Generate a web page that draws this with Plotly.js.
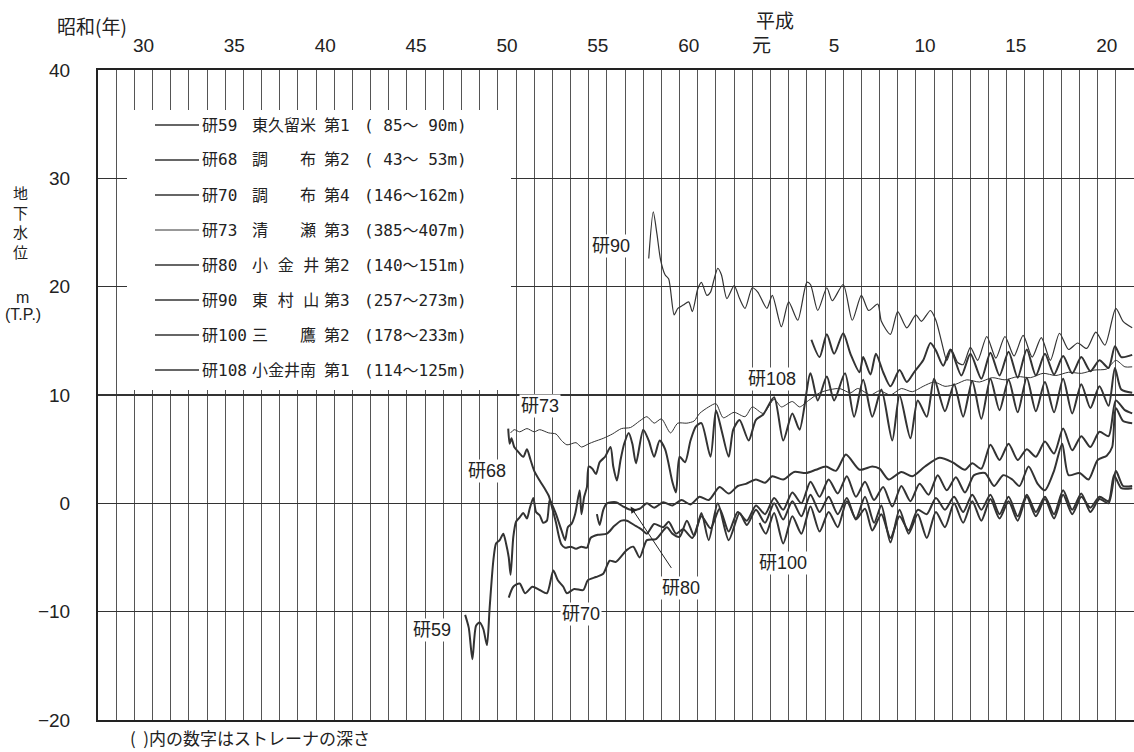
<!DOCTYPE html>
<html><head><meta charset="utf-8">
<script src="https://cdn.plot.ly/plotly-3.0.1.min.js"></script>
<style>html,body{margin:0;padding:0;background:#fff}#chart{width:1134px;height:752px}</style>
</head><body><div id="chart"></div>
<script>
// ---- axis labels ----
const eraTickYears = [1955.5,1960.5,1965.5,1970.5,1975.5,1980.5,1985.5,1989.5,1993.5,1998.5,2003.5,2008.5];
const eraTickText  = ['30','35','40','45','50','55','60','元','5','10','15','20'];
const levelTicks   = [-20,-10,0,10,20,30,40];

// ---- legend text ----
const wellIds    = ['研59','研68','研70','研73','研80','研90','研100','研108'];
const wellPlaces = ['東久留米','調　　布','調　　布','清　　瀬','小 金 井','東 村 山','三　　鷹','小金井南'];
const wellLayers = ['第1','第2','第4','第3','第2','第3','第2','第1'];
const wellDepths = ['( 85～ 90m)','( 43～ 53m)','(146～162m)','(385～407m)','(140～151m)','(257～273m)','(178～233m)','(114～125m)'];

// ---- series (year, groundwater level m T.P.) ----
const yr59 = [1973.2,1973.4,1973.6,1973.8,1974.0,1974.2,1974.4,1974.55,1974.75,1974.9,1975.1,1975.3,1975.45,1975.6,1975.7,1975.85,1976.0,1976.2,1976.4,1976.6,1976.75,1976.95,1977.1,1977.3,1977.5,1977.7,1977.85,1978.0,1978.2,1978.5,1978.7,1978.85,1979.05,1979.25,1979.5,1979.6,1979.75,1979.9,1980.0,1980.2,1980.4,1980.6,1980.9,1981.2,1981.35,1981.55,1981.75,1981.95,1982.2,1982.4,1982.6,1983.0,1983.3,1983.6,1983.9,1984.2,1984.6,1984.8,1985.0,1985.3,1985.6,1985.9,1986.2,1986.7,1987.0,1987.3,1987.7,1987.95,1988.3,1988.8,1989.2,1989.6,1990.2,1990.7,1991.2,1991.6,1992.2,1992.6,1993.1,1993.5,1994.1,1994.6,1995.1,1995.6,1996.1,1996.7,1997.1,1997.7,1998.1,1998.6,1999.0,1999.6,2000.1,2000.6,2001.1,2001.6,2002.1,2002.6,2003.1,2003.6,2004.1,2004.6,2005.1,2005.6,2006.1,2006.6,2007.1,2007.6,2008.1,2008.6,2008.95,2009.3,2009.9];
const lv59 = [-10.3,-11.5,-14.4,-11.3,-11.0,-11.6,-13.1,-9.6,-5.3,-3.7,-3.4,-2.8,-3.7,-5.0,-6.6,-3.1,-1.7,-1.3,-0.9,-1.4,-0.5,0.5,-0.8,-1.1,-1.8,-1.6,0.3,-0.2,-1.0,-2.5,-3.4,-2.2,-1.9,-1.0,1.2,-1.0,0.6,1.5,3.4,3.2,2.7,3.8,4.3,5.2,3.4,2.1,4.0,5.5,6.5,5.5,3.7,6.8,5.8,4.3,5.8,5.0,2.0,1.0,4.3,3.8,5.8,7.1,7.4,4.3,8.6,6.8,4.3,6.8,7.7,5.8,7.7,8.2,9.8,5.8,8.3,6.8,12.0,9.5,11.7,9.5,12.0,8.0,11.4,8.0,10.5,5.8,10.0,6.0,9.5,8.0,11.5,8.5,11.0,8.0,11.3,7.8,11.5,8.6,11.4,8.4,11.6,8.5,11.2,8.4,11.5,8.3,11.0,8.8,10.8,9.0,12.5,10.5,10.2];

const yr68 = [1975.57,1975.65,1975.75,1975.9,1976.1,1976.4,1976.6,1976.8,1977.0,1977.3,1977.6,1977.8,1978.0,1978.2,1978.35,1978.5,1978.7,1979.0,1979.3,1979.6,1979.9,1980.1,1980.5,1981.0,1981.4,1981.8,1982.1,1982.5,1982.9,1983.2,1983.6,1984.1,1984.4,1984.8,1985.2,1985.7,1986.2,1986.7,1987.2,1987.7,1988.2,1988.7,1989.2,1989.7,1990.2,1990.7,1991.2,1991.7,1992.2,1992.7,1993.2,1993.7,1994.2,1994.7,1995.2,1995.7,1996.2,1996.7,1997.2,1997.7,1998.2,1998.7,1999.2,1999.7,2000.2,2000.7,2001.2,2001.8,2002.3,2002.8,2003.3,2003.7,2004.2,2004.7,2005.1,2005.6,2006.05,2006.4,2007.0,2007.5,2008.0,2008.5,2008.8,2009.0,2009.4,2009.9];
const lv68 = [6.9,5.5,6.0,5.2,4.8,4.3,5.0,4.0,3.0,2.1,1.3,0.7,-0.5,-1.8,-3.0,-3.8,-4.1,-4.0,-4.2,-4.0,-4.1,-3.2,-2.9,-2.8,-2.1,-1.6,-1.6,-2.0,-2.4,-2.8,-1.9,-2.2,-1.7,-2.8,-2.4,-3.2,-1.2,-2.3,-0.5,-2.6,-0.8,-1.6,-0.2,-1.0,0.5,-0.6,1.0,0.0,2.0,0.6,2.2,0.9,2.5,0.6,2.0,0.3,1.5,-0.3,1.6,0.2,1.8,0.8,2.6,1.2,2.4,1.0,2.6,2.8,1.6,2.6,2.2,1.6,3.4,1.8,1.2,3.0,5.5,2.6,2.8,2.2,4.0,4.4,5.2,8.8,7.6,7.4];

const yr70 = [1975.6,1975.85,1976.2,1976.5,1976.9,1977.3,1977.7,1978.05,1978.3,1978.6,1978.8,1979.2,1979.7,1979.95,1980.4,1980.8,1981.15,1981.5,1982.1,1982.45,1982.8,1983.2,1983.7,1984.3,1984.6,1985.0,1985.4,1985.8,1986.2,1986.6,1987.1,1987.7,1988.3,1988.7,1989.2,1989.7,1990.2,1990.7,1991.2,1991.7,1992.2,1992.7,1993.2,1993.7,1994.2,1994.7,1995.2,1995.6,1996.1,1996.6,1997.1,1997.6,1998.1,1998.6,1999.1,1999.6,2000.1,2000.6,2001.1,2001.6,2002.1,2002.6,2003.1,2003.6,2004.1,2004.6,2005.1,2005.6,2006.1,2006.6,2007.1,2007.6,2008.1,2008.6,2009.0,2009.4,2009.9];
const lv70 = [-8.7,-7.7,-7.4,-8.3,-7.7,-8.0,-8.3,-6.2,-7.1,-7.7,-8.3,-7.9,-8.0,-7.1,-6.8,-6.5,-5.3,-5.4,-4.3,-4.0,-5.0,-3.4,-3.3,-2.2,-2.8,-3.1,-1.6,-3.0,-0.9,-3.4,0.0,-3.4,-0.9,-2.0,-0.6,-1.8,0.0,-1.5,0.2,-1.2,0.8,-0.8,0.6,-1.0,0.5,-1.5,-0.5,-2.5,-1.0,-3.2,-1.2,-2.5,-0.6,-1.0,0.5,-0.6,0.6,-0.8,0.8,-0.6,0.8,-1.0,0.6,-1.2,0.8,-0.8,0.6,-1.0,1.2,-0.6,0.9,-0.8,0.4,0.0,3.0,1.6,1.6];

const yr73 = [1975.7,1975.9,1976.2,1976.6,1977.0,1977.3,1977.8,1978.2,1978.5,1978.8,1979.3,1979.6,1980.0,1980.3,1980.8,1981.3,1981.8,1982.3,1982.8,1983.2,1983.6,1984.0,1984.5,1984.9,1985.4,1985.8,1986.1,1986.6,1987.0,1987.4,1988.0,1988.6,1989.0,1989.6,1990.2,1990.6,1991.2,1991.6,1992.1,1992.7,1993.3,1993.8,1994.4,1994.8,1995.5,1996.0,1996.6,1997.2,1997.8,1998.4,1999.0,1999.6,2000.2,2000.8,2001.5,2002.2,2002.9,2003.6,2004.3,2005.0,2005.7,2006.4,2007.1,2007.8,2008.5,2009.0,2009.5,2009.9];
const lv73 = [6.5,6.8,6.6,6.9,6.6,6.8,6.5,6.4,5.8,5.4,5.6,5.2,5.5,5.7,6.0,6.4,6.9,7.0,7.6,8.0,7.4,7.8,6.5,7.4,7.4,7.6,8.3,8.9,9.2,7.9,8.4,8.0,8.9,8.3,9.6,8.9,9.4,8.9,9.5,10.2,10.5,10.6,10.2,10.6,10.0,10.4,10.0,10.6,10.3,10.8,11.2,10.8,11.0,11.4,11.2,11.6,11.4,11.7,11.6,12.0,11.8,12.1,12.0,12.3,12.4,13.2,12.6,12.6];

const yr80 = [1980.45,1980.6,1980.8,1981.0,1981.5,1981.9,1982.3,1982.8,1983.2,1983.6,1984.1,1984.6,1985.1,1985.6,1986.1,1986.6,1987.2,1987.7,1988.2,1988.65,1989.2,1989.7,1990.1,1990.7,1991.3,1991.95,1992.5,1993.05,1993.6,1994.15,1994.9,1995.6,1996.0,1996.5,1997.2,1997.8,1998.5,1999.3,2000.0,2000.7,2001.1,2001.6,2002.1,2002.6,2003.1,2003.6,2004.1,2004.6,2005.1,2005.6,2006.1,2006.6,2007.1,2007.6,2008.1,2008.6,2009.0,2009.5,2009.9];
const lv80 = [-1.0,-2.0,-0.6,0.0,0.1,-0.3,-0.6,-0.5,0.0,-0.4,0.1,-0.2,0.3,-0.1,0.6,0.3,1.5,0.9,1.6,1.8,2.2,1.9,2.5,2.2,2.9,2.8,3.1,3.4,3.0,4.5,3.1,3.4,3.2,2.2,2.9,2.5,3.4,4.2,3.8,3.1,3.7,3.2,5.4,4.0,5.5,4.0,5.0,4.3,5.7,4.6,6.9,4.9,6.2,5.2,6.6,6.2,9.5,8.6,8.3];

const yr90 = [1983.3,1983.55,1983.75,1983.95,1984.2,1984.4,1984.7,1984.9,1985.2,1985.5,1985.7,1986.0,1986.2,1986.5,1986.7,1986.9,1987.1,1987.3,1987.6,1988.0,1988.3,1988.6,1989.0,1989.3,1989.8,1990.1,1990.6,1991.0,1991.5,1992.0,1992.2,1992.6,1993.1,1993.4,1994.0,1994.5,1995.0,1995.4,1995.9,1996.1,1996.6,1997.0,1997.5,1998.0,1998.3,1998.8,1999.1,1999.4,1999.7,1999.95,2000.3,2000.6,2001.0,2001.4,2001.9,2002.4,2002.9,2003.4,2003.9,2004.4,2004.9,2005.4,2005.9,2006.4,2006.9,2007.4,2007.9,2008.4,2009.0,2009.4,2009.9];
const lv90 = [22.6,26.9,24.9,22.5,21.1,20.7,17.4,18.0,18.3,18.6,17.7,19.8,20.4,19.2,19.5,20.7,21.7,21.1,18.9,20.1,18.9,18.0,19.9,19.5,18.0,19.2,16.3,18.6,16.9,20.4,20.2,17.8,19.9,18.7,20.2,16.9,19.2,17.8,18.4,16.8,15.6,17.7,16.2,17.4,16.8,17.8,16.9,15.0,13.2,14.2,13.0,12.8,14.4,13.2,15.4,13.4,15.4,13.6,15.5,13.5,15.3,13.2,15.7,14.2,14.8,14.3,15.8,14.6,18.0,16.8,16.2];

const yr100 = [1989.4,1989.75,1990.2,1990.7,1991.2,1991.7,1992.2,1992.7,1993.2,1993.7,1994.2,1994.7,1995.2,1995.7,1996.1,1996.6,1997.1,1997.6,1998.1,1998.6,1999.1,1999.6,2000.1,2000.6,2001.1,2001.6,2002.1,2002.6,2003.1,2003.6,2004.1,2004.6,2005.1,2005.6,2006.1,2006.6,2007.1,2007.6,2008.1,2008.6,2008.9,2009.3,2009.9];
const lv100 = [-1.8,-2.8,-0.9,-3.7,-1.2,-2.8,-0.3,-2.6,-0.8,-2.2,0.2,-1.4,0.6,-1.8,-0.2,-3.6,-0.6,-2.8,-1.0,-3.2,-0.8,-2.2,0.0,-1.8,0.2,-1.6,0.4,-1.4,0.2,-1.6,0.6,-1.2,0.4,-1.4,0.8,-1.0,0.6,-0.4,0.6,0.2,2.6,1.4,1.4];

const yr108 = [1992.25,1992.7,1993.1,1993.5,1994.0,1994.4,1994.9,1995.1,1995.5,1995.8,1996.2,1996.6,1997.1,1997.5,1997.9,1998.4,1998.8,1999.1,1999.5,1999.9,2000.5,2001.0,2001.6,2002.1,2002.6,2003.1,2003.6,2004.1,2004.6,2005.1,2005.6,2006.1,2006.6,2007.1,2007.6,2008.1,2008.6,2008.95,2009.3,2009.9];
const lv108 = [15.1,13.5,15.6,13.8,15.7,13.8,12.1,13.5,11.9,13.8,12.1,10.8,12.3,11.2,12.1,13.2,14.8,14.1,12.7,14.2,11.8,13.8,11.5,13.9,11.8,14.0,11.6,14.2,11.8,13.8,11.9,13.6,12.0,13.5,12.2,13.2,12.5,14.5,13.5,13.7];

// ---- build ----
const ink = '#333';
const seriesX = [yr59, yr68, yr70, yr73, yr80, yr90, yr100, yr108];
const seriesY = [lv59, lv68, lv70, lv73, lv80, lv90, lv100, lv108];
const seriesW = [2, 2, 2, 1, 2, 1.2, 2, 2];

const traces = seriesX.map((xs, i) => ({
  type: 'scatter', mode: 'lines', x: xs, y: seriesY[i], name: wellIds[i],
  line: {color: ink, width: seriesW[i], shape: 'spline', smoothing: 0.7},
  showlegend: false, hoverinfo: 'skip'
}));

const numFont = 'Liberation Sans, Arial, Noto Sans CJK JP, sans-serif';
const jpFont = 'Noto Sans CJK JP, sans-serif';
const legFont = 'DejaVu Sans Mono, Noto Sans CJK JP, monospace';

const L = 98, T = 70, PW = 1036, PH = 650;
const px = v => (v - L) / PW;        // pixel -> paper x
const py = v => (T + PH - v) / PH;   // pixel -> paper y

const shapes = [];
const annotations = [];
const note = (t, x, y, font, xa) => annotations.push({xref:'paper', yref:'paper', x:px(x), y:py(y), text:t,
  showarrow:false, xanchor: xa || 'center', yanchor:'middle', font});

// legend box (covers grid)
shapes.push({type:'rect', xref:'paper', yref:'paper', x0:px(127), x1:px(511), y0:py(390), y1:py(110),
  fillcolor:'#fff', line:{width:0}, layer:'above'});
wellIds.forEach((id, i) => {
  const rowY = 125 + 35 * i;
  shapes.push({type:'line', xref:'paper', yref:'paper', x0:px(155), x1:px(199), y0:py(rowY), y1:py(rowY),
    line:{color:ink, width: i === 3 ? 1 : 1.5}, layer:'above'});
  const cols = [[id, 200], [wellPlaces[i], 250], [wellLayers[i], 322], [wellDepths[i], 362]];
  cols.forEach(([t, x]) => note(t, x, rowY, {family:legFont, size:16, color:'#222'}, 'left'));
});

// series labels
const lab = (t, x, y) => ({x, y, xref:'x', yref:'y', text:t, showarrow:false, bgcolor:'#fff', borderpad:1,
  xanchor:'center', yanchor:'middle', font:{family:numFont, size:18, color:'#222'}});
annotations.push(lab('研90', 1981.2, 23.8));
annotations.push(lab('研108', 1990.1, 11.5));
annotations.push(lab('研73', 1977.3, 9.0));
annotations.push(lab('研68', 1974.4, 3.0));
annotations.push(lab('研80', 1985.1, -7.8));
annotations.push(lab('研70', 1979.6, -10.2));
annotations.push(lab('研59', 1971.4, -11.7));
annotations.push(lab('研100', 1990.7, -5.5));
annotations.push({x:1982.3, y:-0.3, xref:'x', yref:'y', ax:1984.6, ay:-6.1, axref:'x', ayref:'y', text:'',
  showarrow:true, arrowhead:2, arrowsize:1.3, arrowwidth:1, arrowcolor:'#222'});

// titles
note('地<br>下<br>水<br>位', 20, 222, {family:jpFont, size:15, color:'#222'});
note('m', 22, 297, {family:numFont, size:16, color:'#222'});
note('(T.P.)', 23, 314, {family:numFont, size:16, color:'#222'});
note('昭和(年)', 92, 25, {family:jpFont, size:19, color:'#222'});
note('平成', 775, 19, {family:jpFont, size:19, color:'#222'});
note('(  )内の数字はストレーナの深さ', 128, 737, {family:jpFont, size:17, color:'#222'}, 'left');

const layout = {
  width: 1134, height: 752,
  margin: {l: L, r: 0, t: T, b: 752 - T - PH, pad: 0},
  paper_bgcolor: '#fff', plot_bgcolor: '#fff',
  showlegend: false,
  xaxis: {
    range: [1953, 2010], side: 'top', tickmode: 'array', tickvals: eraTickYears, ticktext: eraTickText,
    ticks: '', showgrid: false, zeroline: false, showline: true, mirror: true, linecolor: '#222', linewidth: 2,
    tickfont: {family: numFont, size: 19, color: '#222'}, ticklabelstandoff: 8,
    minor: {tickmode: 'linear', tick0: 1953, dtick: 1, showgrid: true, gridcolor: '#555', gridwidth: 1, ticks: ''}
  },
  yaxis: {
    range: [-20, 40], tickmode: 'array', tickvals: levelTicks, ticks: '',
    showgrid: true, gridcolor: '#333', gridwidth: 1.2, zeroline: false,
    showline: true, mirror: true, linecolor: '#222', linewidth: 2,
    tickfont: {family: numFont, size: 19, color: '#222'}, ticklabelstandoff: 22
  },
  shapes, annotations
};

Plotly.newPlot('chart', traces, layout, {displayModeBar: false, staticPlot: true});
</script></body></html>
